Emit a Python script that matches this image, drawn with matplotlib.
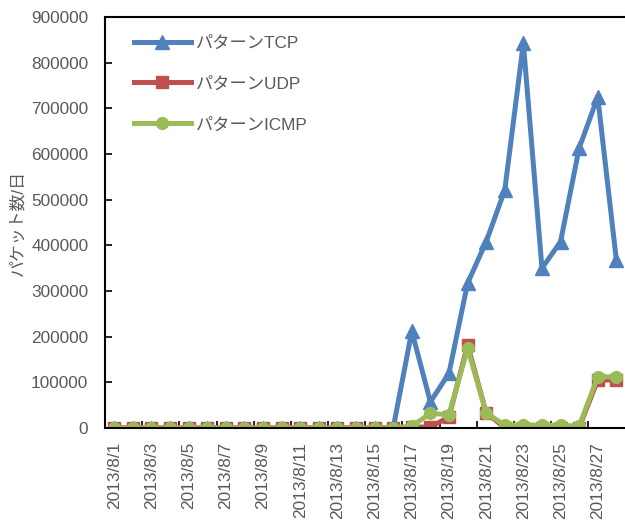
import matplotlib
matplotlib.use("Agg")
import matplotlib.pyplot as plt
import numpy as np

plt.rcParams['font.family'] = ['Liberation Sans', 'Noto Sans CJK JP', 'DejaVu Sans']

dates = [f"2013/8/{d}" for d in range(1, 29)]

tcp = [0, 0, 0, 0, 0, 0, 0, 0, 0, 0, 0, 0, 0, 0, 0, 0,
       212000, 57000, 120000, 317000, 408000, 521000, 843000,
       350000, 408000, 613000, 725000, 368000]
udp = [0, 0, 0, 0, 0, 0, 0, 0, 0, 0, 0, 0, 0, 0, 0, 0,
       2000, 2000, 24000, 182000, 33000, 1000, 1000,
       1000, 1000, 1000, 105000, 105000]
icmp = [0, 0, 0, 0, 0, 0, 0, 0, 0, 0, 0, 0, 0, 0, 0, 0,
        4000, 32000, 29000, 175000, 33000, 6000, 7000,
        6000, 6000, 4000, 112000, 112000]

series = [
    ("パターンTCP", tcp, "#4F81BD", "^", 9.5),
    ("パターンUDP", udp, "#C0504D", "s", 8),
    ("パターンICMP", icmp, "#9BBB59", "o", 8.5),
]

text_color = "#595959"
fs = 12.4

fig = plt.figure(figsize=(6.25, 5.2), dpi=100)
ax = fig.add_axes([0.168, 0.177, 0.833, 0.790])

x = np.arange(len(dates))
for name, vals, color, marker, ms in series:
    ax.plot(x, vals, color=color, lw=3.6, marker=marker, ms=ms,
            markeredgecolor=color, label=name, solid_joinstyle='round')

ax.set_xlim(-0.5, len(dates) - 0.5)
ax.set_ylim(0, 900000)
ax.set_yticks(np.arange(0, 900001, 100000))
ax.set_yticklabels([str(v) for v in range(0, 900001, 100000)])

ax.set_xticks(x[::2])
ax.set_xticklabels(dates[::2], rotation=90)
ax.set_xticks(np.arange(-0.5, len(dates), 2), minor=True)
ax.tick_params(axis='x', which='major', length=0, pad=10,
               labelsize=fs, labelcolor=text_color)
ax.tick_params(axis='x', which='minor', direction='in', length=5,
               width=1.2, color='black')
ax.tick_params(axis='y', direction='in', length=5, width=1.2,
               labelsize=fs, labelcolor=text_color, pad=12)

for side in ('left', 'bottom', 'top'):
    ax.spines[side].set_linewidth(1.5)
    ax.spines[side].set_color('black')
ax.spines['right'].set_visible(False)

ax.set_ylabel("パケット数/日", fontsize=12.2, color=text_color, labelpad=4)

leg = ax.legend(loc='upper left', bbox_to_anchor=(0.026, 0.993), frameon=False,
                fontsize=fs, handlelength=3.3, labelspacing=1.5,
                handletextpad=0.3, labelcolor=text_color)

fig.savefig("out.png", dpi=100)
